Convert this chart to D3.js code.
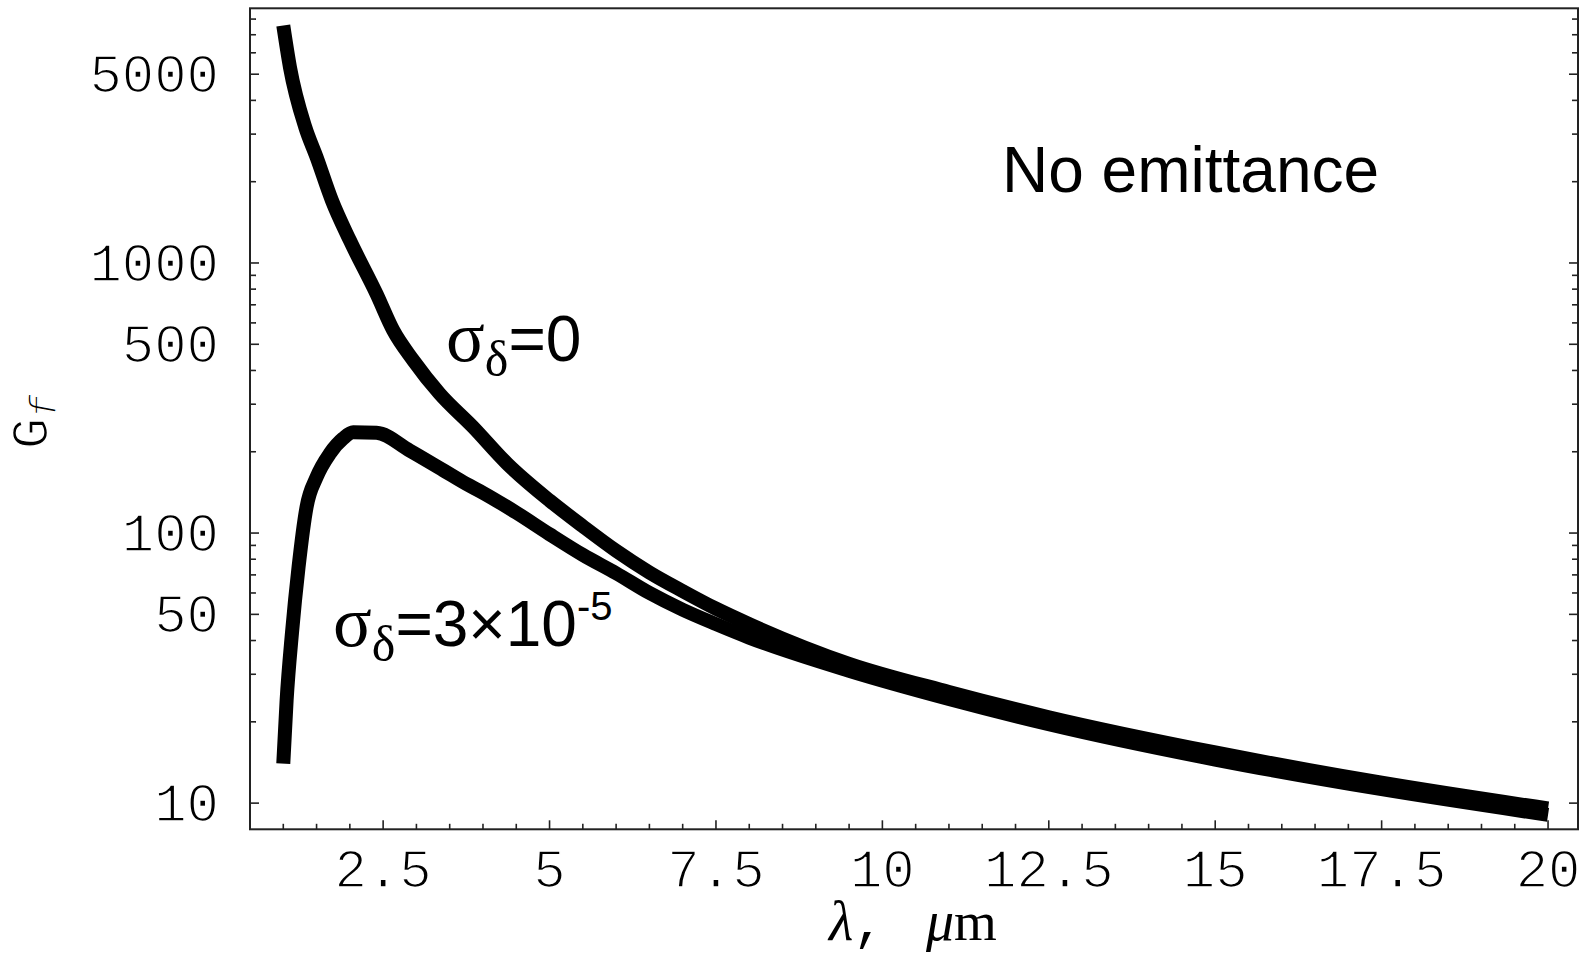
<!DOCTYPE html>
<html>
<head>
<meta charset="utf-8">
<script src="https://cdn.jsdelivr.net/npm/d3@7"></script>
<style>
  body { margin: 0; background: white; }
  svg { display: block; }
  .tick-label { font-family: "Liberation Mono", "Courier New", monospace; font-size: 54px; fill: black; stroke: white; stroke-width: 1.6px; }
  .note { font-family: "Liberation Sans", Arial, sans-serif; fill: black; }
</style>
</head>
<body>
<div id="chart"></div>
<script>
let width = 1581;
let height = 957;

// sigma_delta = 0
let lambdaZero = [1.0, 1.1, 1.33, 1.5, 1.73, 2.0, 2.4, 2.65, 2.95, 3.35, 3.85, 4.36, 5.0, 5.5, 6.0, 6.5, 7.0, 7.5, 8.0, 9.5, 11, 12.5, 15, 17.5, 20];
let gainZero = [7570, 5310, 3185, 2466, 1706, 1213, 769, 564, 437, 328, 247, 181, 132, 106, 86, 71.5, 61, 52.5, 46, 32.8, 25.8, 20.8, 15.4, 11.9, 9.55];

// sigma_delta = 3e-5
let lambdaSpread = [1.0, 1.05, 1.13, 1.23, 1.35, 1.5, 1.7, 1.9, 2.05, 2.4, 2.9, 3.4, 3.75, 4.0, 4.5, 5.0, 5.5, 6.0, 6.5, 7.0, 7.5, 8.0, 9.5, 11, 12.5, 15, 17.5, 20];
let gainSpread = [14.0, 24.0, 42.5, 75, 125, 161, 197, 224, 236, 235, 202, 171, 152, 141, 119, 99, 83, 71, 60, 52, 46, 41, 30.9, 24.3, 19.6, 14.5, 11.26, 9.05];

let xTicks = [2.5, 5, 7.5, 10, 12.5, 15, 17.5, 20];
let xTickLabels = ["2.5", "5", "7.5", "10", "12.5", "15", "17.5", "20"];
let yTicks = [10, 50, 100, 500, 1000, 5000];

let x = d3.scaleLinear().domain([0.5, 20.45]).range([250, 1578]);
let y = d3.scaleLog().domain([8, 8770]).range([829.3, 8.3]);

let svg = d3.select("#chart").append("svg")
    .attr("width", width)
    .attr("height", height);

// minor ticks: every 0.5 on x, 1..9 per decade on y
let xMinor = d3.range(1, 20.01, 0.5);
let yMinor = [];
[10, 100, 1000].forEach(d => {
    for (let k = 1; k < 10; k++) if (y(d * k) > 8.3) yMinor.push(d * k);
});

let ticks = svg.append("g").attr("stroke", "#222").attr("stroke-width", 1.6);

xMinor.forEach(v => {
    let len = xTicks.includes(v) ? 9 : 5.5;
    ticks.append("line")
        .attr("x1", x(v)).attr("x2", x(v))
        .attr("y1", 829.3).attr("y2", 829.3 - len);
});

yMinor.forEach(v => {
    let len = yTicks.includes(v) ? 9 : 6;
    ticks.append("line")
        .attr("x1", 250).attr("x2", 250 + len)
        .attr("y1", y(v)).attr("y2", y(v));
    ticks.append("line")
        .attr("x1", 1578).attr("x2", 1578 - len)
        .attr("y1", y(v)).attr("y2", y(v));
});

svg.append("rect")
    .attr("x", 250)
    .attr("y", 8.3)
    .attr("width", 1578 - 250)
    .attr("height", 829.3 - 8.3)
    .attr("fill", "none")
    .attr("stroke", "#222")
    .attr("stroke-width", 2);

// tick labels
svg.append("g").selectAll("text")
    .data(yTicks)
    .enter().append("text")
    .attr("class", "tick-label")
    .attr("x", 219)
    .attr("y", d => y(d))
    .attr("dy", "0.33em")
    .attr("text-anchor", "end")
    .text(d => d);

svg.append("g").selectAll("text")
    .data(xTicks)
    .enter().append("text")
    .attr("class", "tick-label")
    .attr("x", d => x(d))
    .attr("y", 887)
    .attr("text-anchor", "middle")
    .text((d, i) => xTickLabels[i]);

// axis titles
let xTitle = svg.append("text")
    .attr("x", 829)
    .attr("y", 940)
    .attr("font-size", 56);
xTitle.append("tspan")
    .attr("font-family", "'Liberation Serif', 'Times New Roman', serif")
    .attr("font-style", "italic")
    .text("λ");
xTitle.append("tspan")
    .attr("font-family", "'Liberation Mono', monospace")
    .attr("font-size", 52)
    .text(",");
xTitle.append("tspan")
    .attr("x", 926)
    .attr("font-family", "'Liberation Serif', 'Times New Roman', serif")
    .attr("font-style", "italic")
    .text("μ");
xTitle.append("tspan")
    .attr("font-family", "'Liberation Serif', 'Times New Roman', serif")
    .attr("font-size", 55)
    .text("m");

let yTitle = svg.append("text")
    .attr("transform", "translate(47,449) rotate(-90)")
    .attr("font-family", "'Liberation Mono', monospace")
    .attr("font-size", 52)
    .attr("fill", "black")
    .attr("stroke", "white")
    .attr("stroke-width", 1.4);
yTitle.append("tspan").text("G");
yTitle.append("tspan")
    .attr("font-size", 38)
    .attr("font-style", "italic")
    .attr("dy", 9)
    .text("f");

// curves
let line = d3.line()
    .curve(d3.curveMonotoneX)
    .x(d => x(d[0]))
    .y(d => y(d[1]));

let curves = [
    d3.zip(lambdaZero, gainZero),
    d3.zip(lambdaSpread, gainSpread)
];

svg.append("g").selectAll("path")
    .data(curves)
    .enter().append("path")
    .attr("d", line)
    .attr("fill", "none")
    .attr("stroke", "black")
    .attr("stroke-width", 14)
    .attr("stroke-linejoin", "round")
    .attr("stroke-linecap", "butt");

// annotations
svg.append("text")
    .attr("class", "note")
    .attr("x", 1002)
    .attr("y", 191.7)
    .attr("font-size", 64)
    .text("No emittance");

function sigmaLabel(x0, y0, rest, sup) {
    let t = svg.append("text").attr("class", "note").attr("x", x0).attr("y", y0);
    t.append("tspan")
        .attr("font-family", "'Liberation Serif', 'Times New Roman', serif")
        .attr("font-size", 72)
        .text("σ");
    t.append("tspan")
        .attr("font-family", "'Liberation Serif', 'Times New Roman', serif")
        .attr("font-size", 50)
        .attr("dy", 15)
        .text("δ");
    t.append("tspan")
        .attr("font-size", 64)
        .attr("dy", -15)
        .text(rest);
    if (sup) {
        t.append("tspan")
            .attr("font-size", 40)
            .attr("dy", -26)
            .text(sup);
    }
}

sigmaLabel(446, 361, "=0");
sigmaLabel(333, 646, "=3×10", "-5");
</script>
</body>
</html>
